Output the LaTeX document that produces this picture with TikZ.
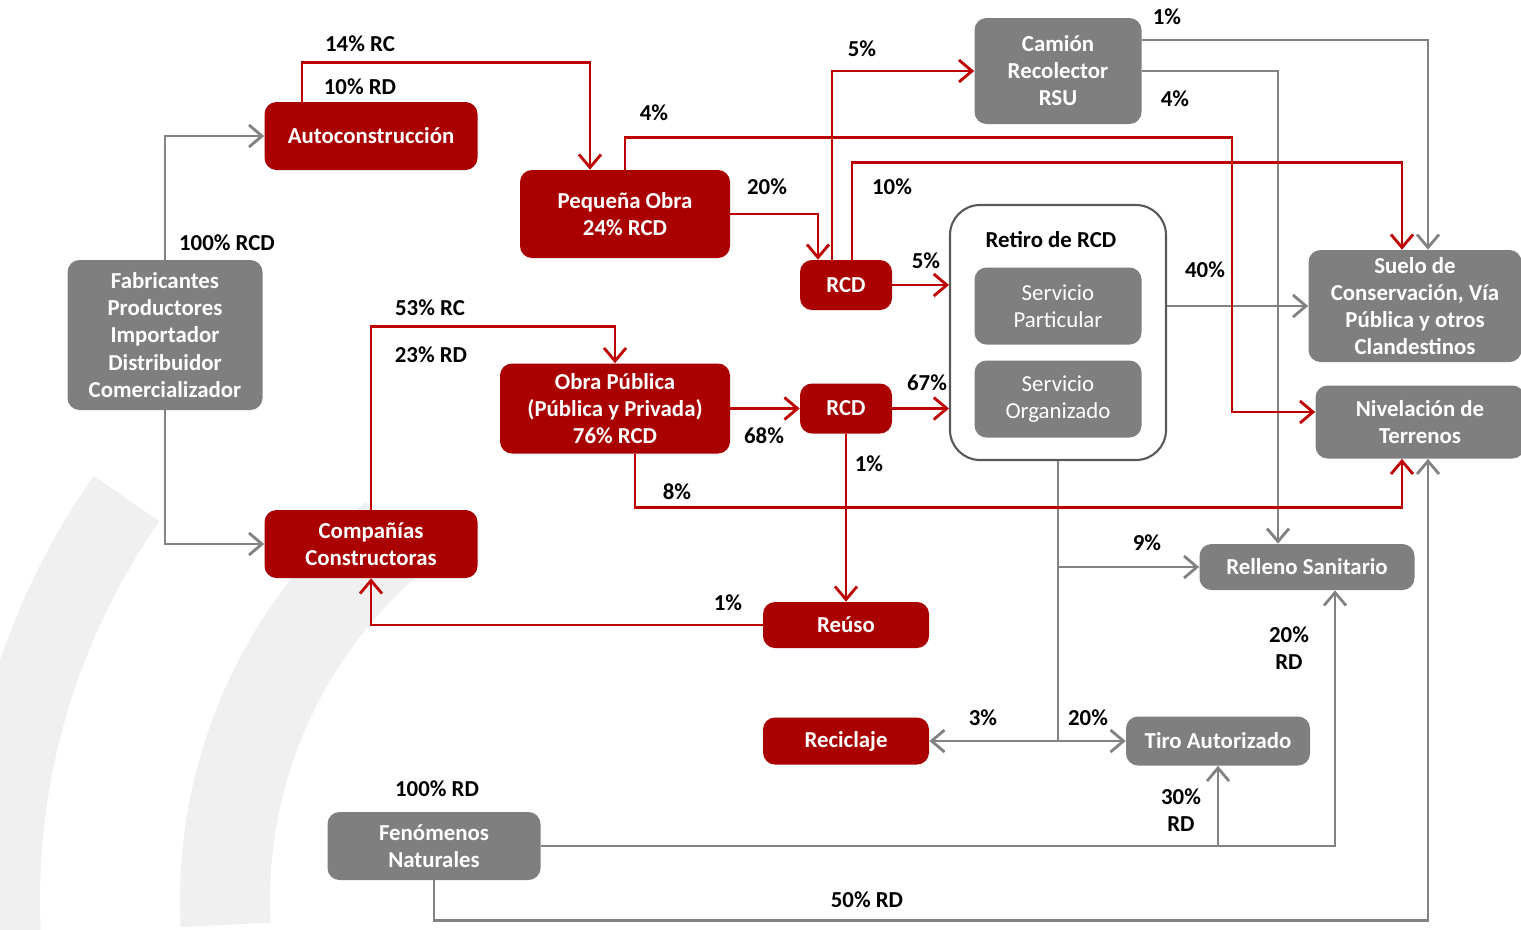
\documentclass[tikz,border=0pt]{standalone}
\usepackage{fontspec}
\setmainfont{Carlito}
\usepackage{tikz}
\usetikzlibrary{arrows.meta, positioning, calc}
\definecolor{boxred}{RGB}{170,0,0}
\definecolor{boxgray}{RGB}{127,127,127}
\definecolor{linered}{RGB}{190,0,0}
\definecolor{linegray}{RGB}{130,130,130}
\tikzstyle{redbox} = [rectangle, rounded corners=0.24cm, fill=boxred, text=white, font=\fontsize{13}{15.4}\selectfont\bfseries, align=center]
\tikzstyle{graybox} = [rectangle, rounded corners=0.24cm, fill=boxgray, text=white, font=\fontsize{13}{15.4}\selectfont\bfseries, align=center]
\tikzstyle{pct} = [font=\fontsize{13}{15.4}\selectfont\bfseries, align=center]
\tikzstyle{rline} = [line width=1.6pt, draw=linered, -{Straight Barb[length=2.6mm,width=4.4mm]}]
\tikzstyle{gline} = [line width=1.6pt, draw=linegray, -{Straight Barb[length=2.6mm,width=4.4mm]}]

\begin{document}
\begin{tikzpicture}
    \useasboundingbox (0,0) rectangle (30.42,-18.58);
    % Background swooshes
    \draw [line width=1.6cm, black!6] (14,-18) ++(145:14) arc (145:186:14);
    \draw [line width=1.8cm, black!6] (14,-18) ++(130:9.5) arc (130:183:9.5);

    % Sources
    \node (fab) at (3.30,-6.70) [graybox, minimum width=3.9cm, minimum height=3cm] {Fabricantes\\Productores\\Importador\\Distribuidor\\Comercializador};
    \node (fen) at (8.68,-16.92) [graybox, minimum width=4.26cm, minimum height=1.36cm] {Fenómenos\\Naturales};

    % Generators
    \node (auto) at (7.42,-2.72) [redbox, minimum width=4.26cm, minimum height=1.36cm] {Autoconstrucción};
    \node (comp) at (7.42,-10.88) [redbox, minimum width=4.26cm, minimum height=1.36cm] {Compañías\\Constructoras};
    \node (peq) at (12.50,-4.28) [redbox, minimum width=4.2cm, minimum height=1.76cm] {Pequeña Obra\\24\% RCD};
    \node (obra) at (12.30,-8.17) [redbox, minimum width=4.6cm, minimum height=1.8cm] {Obra Pública\\(Pública y Privada)\\76\% RCD};
    \node (rcda) at (16.92,-5.70) [redbox, minimum width=1.84cm, minimum height=1cm] {RCD};
    \node (rcdb) at (16.92,-8.17) [redbox, minimum width=1.84cm, minimum height=1cm] {RCD};
    \node (reuso) at (16.92,-12.50) [redbox, minimum width=3.32cm, minimum height=0.92cm] {Reúso};
    \node (recic) at (16.92,-14.82) [redbox, minimum width=3.32cm, minimum height=0.94cm] {Reciclaje};

    % Collection
    \node (cam) at (21.16,-1.42) [graybox, minimum width=3.34cm, minimum height=2.12cm] {Camión\\Recolector\\RSU};
    \node (retiro) at (21.16,-6.65) [rectangle, rounded corners=0.6cm, draw=black!65, line width=1.2pt, fill=white, minimum width=4.32cm, minimum height=5.1cm] {};
    \node (retirot) at (21.02,-4.80) [pct] {Retiro de RCD};
    \node (part) at (21.16,-6.12) [graybox, font=\fontsize{13}{15.4}\selectfont, minimum width=3.34cm, minimum height=1.54cm] {Servicio\\Particular};
    \node (org) at (21.16,-7.98) [graybox, font=\fontsize{13}{15.4}\selectfont, minimum width=3.34cm, minimum height=1.54cm] {Servicio\\Organizado};

    % Destinations
    \node (suelo) at (28.30,-6.12) [graybox, minimum width=4.26cm, minimum height=2.24cm] {Suelo de\\Conservación, Vía\\Pública y otros\\Clandestinos};
    \node (nivel) at (28.40,-8.44) [graybox, minimum width=4.18cm, minimum height=1.46cm] {Nivelación de\\Terrenos};
    \node (rell) at (26.14,-11.34) [graybox, minimum width=4.3cm, minimum height=0.92cm] {Relleno Sanitario};
    \node (tiro) at (24.36,-14.82) [graybox, minimum width=3.68cm, minimum height=0.98cm] {Tiro Autorizado};

    % Gray flows
    \draw [gline] (fab.north) |- (auto.west);
    \draw [gline] (fab.south) |- (comp.west);
    \draw [gline] ([yshift=0.62cm]cam.east) -| ([xshift=0.26cm]suelo.north);
    \draw [gline] (cam.east) -| ([xshift=-0.58cm]rell.north);
    \draw [gline] (retiro.east |- suelo.west) -- (suelo.west);
    \draw [gline, -] (retiro.south) -- (retiro.south |- tiro.west) coordinate (hub);
    \draw [gline] (retiro.south |- rell.west) -- (rell.west);
    \draw [gline] (hub) -- (tiro.west);
    \draw [gline] (hub) -- (recic.east);
    \draw [gline] (fen.east) -| ([xshift=0.56cm]rell.south);
    \draw [gline] (tiro.south |- fen.east) -- (tiro.south);
    \draw [gline] (fen.south) -- ++(0,-0.80) -| ([xshift=0.16cm]nivel.south);

    % Red flows
    \draw [rline] ([xshift=-1.38cm]auto.north) -- ++(0,0.78) -| ([xshift=-0.70cm]peq.north);
    \draw [rline] (comp.north) -- ++(0,3.66) -| (obra.north);
    \draw [rline] (peq.north) -- ++(0,0.64) -| (24.64,-8.24) -- ([yshift=0.2cm]nivel.west);
    \draw [rline] (peq.east) -| ([xshift=-0.56cm]rcda.north);
    \draw [rline] ([xshift=-0.28cm]rcda.north) |- (cam.west);
    \draw [rline] ([xshift=0.12cm]rcda.north) -- ++(0,1.94) -| ([xshift=-0.26cm]suelo.north);
    \draw [rline] (rcda.east) -- (rcda.east -| retiro.west);
    \draw [rline] (obra.east) -- (rcdb.west);
    \draw [rline] (rcdb.east) -- (rcdb.east -| retiro.west);
    \draw [rline] (rcdb.south) -- (reuso.north);
    \draw [rline] ([xshift=0.40cm]obra.south) -- ++(0,-1.08) -| ([xshift=-0.36cm]nivel.south);
    \draw [rline] (reuso.west) -| (comp.south);

    % Labels
    \node (p100rcd) at (4.54,-4.86) [pct] {100\% RCD};
    \node (p14rc) at (7.20,-0.88) [pct] {14\% RC};
    \node (p10rd) at (7.20,-1.74) [pct] {10\% RD};
    \node (p53rc) at (8.60,-6.16) [pct] {53\% RC};
    \node (p23rd) at (8.62,-7.10) [pct] {23\% RD};
    \node (p4a) at (13.08,-2.26) [pct] {4\%};
    \node (p20a) at (15.34,-3.74) [pct] {20\%};
    \node (p5a) at (17.24,-0.98) [pct] {5\%};
    \node (p10a) at (17.84,-3.74) [pct] {10\%};
    \node (p5b) at (18.52,-5.22) [pct] {5\%};
    \node (p68) at (15.28,-8.72) [pct] {68\%};
    \node (p67) at (18.54,-7.66) [pct] {67\%};
    \node (p1a) at (17.38,-9.28) [pct] {1\%};
    \node (p8) at (13.54,-9.84) [pct] {8\%};
    \node (p1b) at (14.56,-12.06) [pct] {1\%};
    \node (p1c) at (23.34,-0.34) [pct] {1\%};
    \node (p4b) at (23.50,-1.98) [pct] {4\%};
    \node (p40) at (24.10,-5.40) [pct] {40\%};
    \node (p9) at (22.94,-10.86) [pct] {9\%};
    \node (p20b) at (21.76,-14.36) [pct] {20\%};
    \node (p3) at (19.66,-14.36) [pct] {3\%};
    \node (p20rd) at (25.78,-12.96) [pct] {20\%\\RD};
    \node (p30rd) at (23.62,-16.20) [pct] {30\%\\RD};
    \node (p100rd) at (8.74,-15.78) [pct] {100\% RD};
    \node (p50rd) at (17.34,-18.00) [pct] {50\% RD};
\end{tikzpicture}
\end{document}
